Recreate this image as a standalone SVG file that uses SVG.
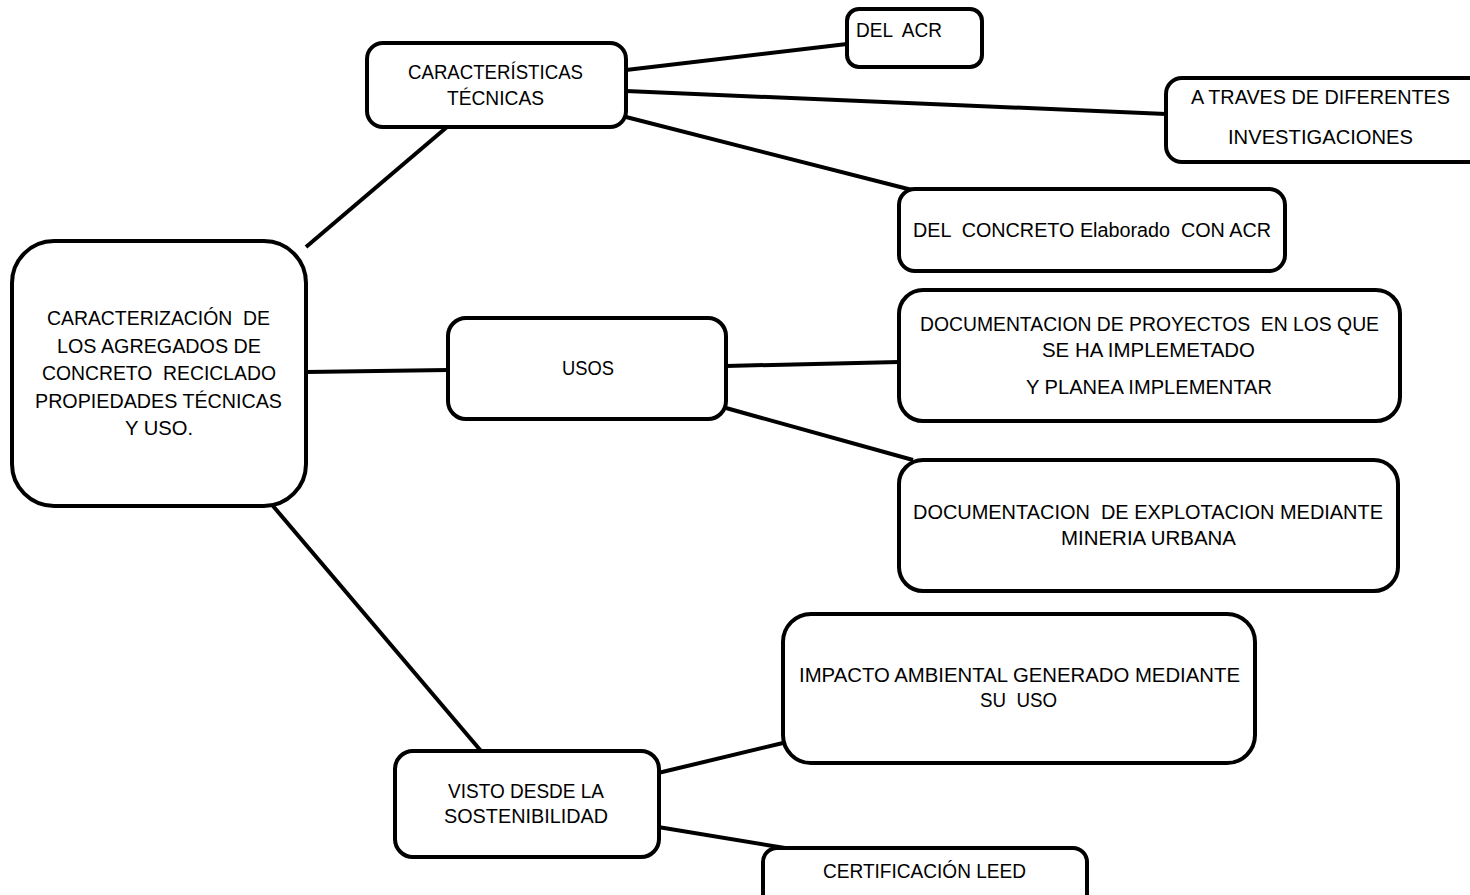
<svg xmlns="http://www.w3.org/2000/svg" width="1470" height="895" viewBox="0 0 1470 895">
<style>
.box{fill:#fff;stroke:#000;stroke-width:4}
.ln{stroke:#000;stroke-width:4;fill:none}
text{font-family:"Liberation Sans",Arial,sans-serif;font-size:20px;fill:#000;white-space:pre}
</style>
<rect width="1470" height="895" fill="#fff"/>
<g id="connectors">
<line class="ln" x1="306" y1="247" x2="447" y2="127"/>
<line class="ln" x1="306" y1="372" x2="448" y2="370"/>
<line class="ln" x1="273" y1="506" x2="481" y2="751"/>
<line class="ln" x1="626" y1="70" x2="847" y2="44"/>
<line class="ln" x1="626" y1="91" x2="1166" y2="114"/>
<line class="ln" x1="626" y1="117" x2="912" y2="190"/>
<line class="ln" x1="726" y1="366" x2="899" y2="362"/>
<line class="ln" x1="726" y1="408" x2="913" y2="460"/>
<line class="ln" x1="658" y1="773" x2="783" y2="743"/>
<line class="ln" x1="658" y1="827" x2="785" y2="848"/>
</g>
<g id="main">
<rect class="box" x="12" y="241" width="294" height="265" rx="42"/>
<text x="47" y="325" textLength="223" lengthAdjust="spacingAndGlyphs">CARACTERIZACIÓN  DE</text>
<text x="57" y="353" textLength="204" lengthAdjust="spacingAndGlyphs">LOS AGREGADOS DE</text>
<text x="42" y="380" textLength="234" lengthAdjust="spacingAndGlyphs">CONCRETO  RECICLADO</text>
<text x="35" y="408" textLength="247" lengthAdjust="spacingAndGlyphs">PROPIEDADES TÉCNICAS</text>
<text x="125" y="435" textLength="68" lengthAdjust="spacingAndGlyphs">Y USO.</text>
</g>
<g id="caracteristicas">
<rect class="box" x="367" y="43" width="259" height="84" rx="16"/>
<text x="408" y="79" textLength="175" lengthAdjust="spacingAndGlyphs">CARACTERÍSTICAS</text>
<text x="447" y="105" textLength="97" lengthAdjust="spacingAndGlyphs">TÉCNICAS</text>
</g>
<g id="usos">
<rect class="box" x="448" y="318" width="278" height="101" rx="18"/>
<text x="562" y="375" textLength="52" lengthAdjust="spacingAndGlyphs">USOS</text>
</g>
<g id="visto">
<rect class="box" x="395" y="751" width="264" height="106" rx="18"/>
<text x="448" y="798" textLength="156" lengthAdjust="spacingAndGlyphs">VISTO DESDE LA</text>
<text x="444" y="823" textLength="164" lengthAdjust="spacingAndGlyphs">SOSTENIBILIDAD</text>
</g>
<g id="del-acr">
<rect class="box" x="847" y="9" width="135" height="58" rx="12"/>
<text x="856" y="37" textLength="86" lengthAdjust="spacingAndGlyphs">DEL  ACR</text>
</g>
<g id="a-traves">
<rect class="box" x="1166" y="78" width="320" height="84" rx="16"/>
<text x="1191" y="104" textLength="259" lengthAdjust="spacingAndGlyphs">A TRAVES DE DIFERENTES</text>
<text x="1228" y="144" textLength="185" lengthAdjust="spacingAndGlyphs">INVESTIGACIONES</text>
</g>
<g id="del-concreto">
<rect class="box" x="899" y="189" width="386" height="82" rx="16"/>
<text x="913" y="237" textLength="358" lengthAdjust="spacingAndGlyphs">DEL  CONCRETO Elaborado  CON ACR</text>
</g>
<g id="doc-proyectos">
<rect class="box" x="899" y="290" width="501" height="131" rx="24"/>
<text x="920" y="331" textLength="459" lengthAdjust="spacingAndGlyphs">DOCUMENTACION DE PROYECTOS  EN LOS QUE</text>
<text x="1042" y="357" textLength="213" lengthAdjust="spacingAndGlyphs">SE HA IMPLEMETADO</text>
<text x="1026" y="394" textLength="246" lengthAdjust="spacingAndGlyphs">Y PLANEA IMPLEMENTAR</text>
</g>
<g id="doc-explotacion">
<rect class="box" x="899" y="460" width="499" height="131" rx="24"/>
<text x="913" y="519" textLength="470" lengthAdjust="spacingAndGlyphs">DOCUMENTACION  DE EXPLOTACION MEDIANTE</text>
<text x="1061" y="545" textLength="175" lengthAdjust="spacingAndGlyphs">MINERIA URBANA</text>
</g>
<g id="impacto">
<rect class="box" x="783" y="614" width="472" height="149" rx="28"/>
<text x="799" y="682" textLength="441" lengthAdjust="spacingAndGlyphs">IMPACTO AMBIENTAL GENERADO MEDIANTE</text>
<text x="980" y="707" textLength="77" lengthAdjust="spacingAndGlyphs">SU  USO</text>
</g>
<g id="certificacion">
<rect class="box" x="763" y="848" width="324" height="70" rx="14"/>
<text x="823" y="878" textLength="203" lengthAdjust="spacingAndGlyphs">CERTIFICACIÓN LEED</text>
</g>
</svg>
